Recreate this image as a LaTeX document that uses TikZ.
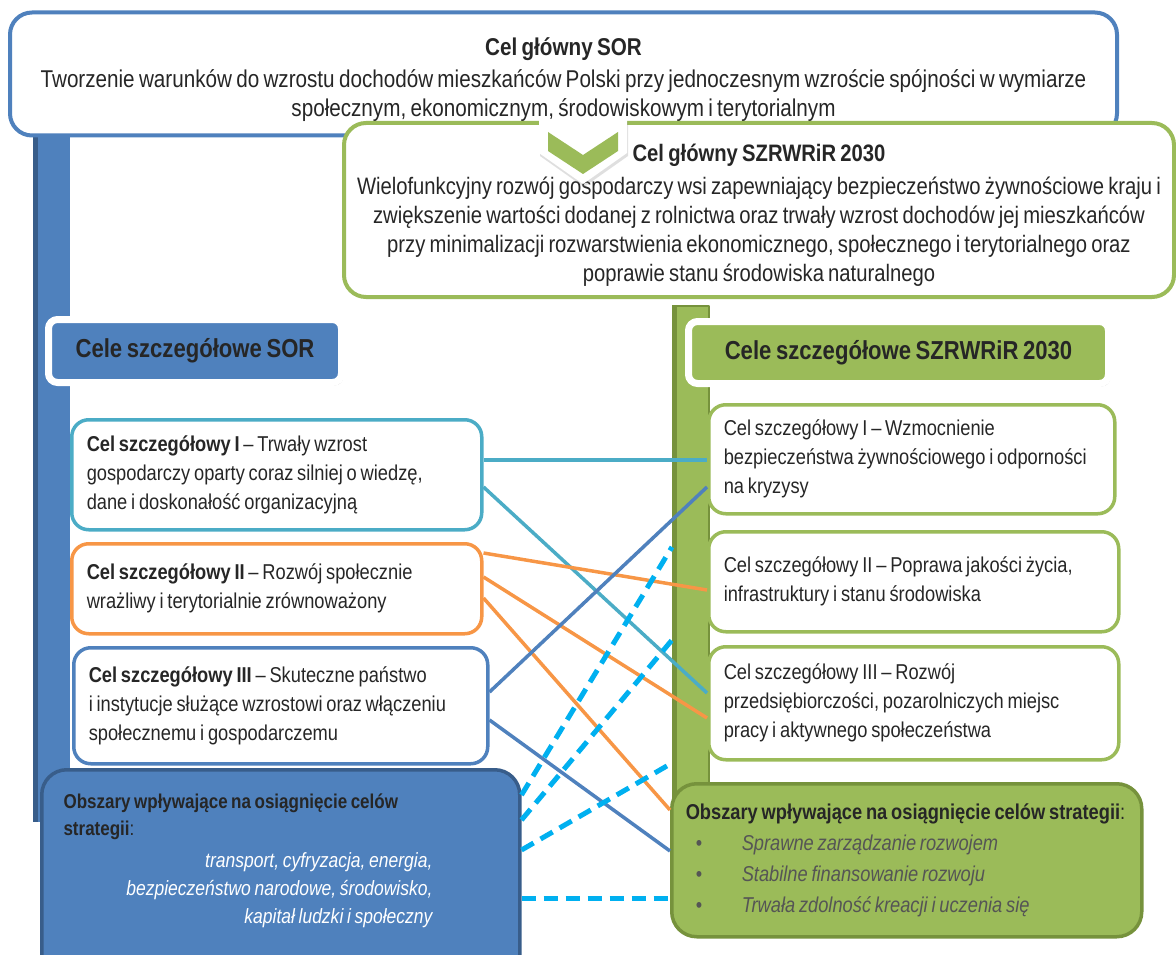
\documentclass[tikz,border=0pt]{standalone}
\usepackage{fontspec}
\setmainfont{Liberation Sans}[FakeStretch=0.85, WordSpace=0.75]
\usetikzlibrary{shadows}
\definecolor{sorblue}{HTML}{4F81BD}
\definecolor{sorbluedark}{HTML}{385D8A}
\definecolor{szgreen}{HTML}{9BBB59}
\definecolor{szgreendark}{HTML}{76923C}
\definecolor{cyanline}{HTML}{4BACC6}
\definecolor{orangeline}{HTML}{F79646}
\definecolor{dashblue}{HTML}{00B0F0}
\definecolor{txt}{HTML}{262626}
\definecolor{itemgray}{HTML}{555555}
\begin{document}
\begin{tikzpicture}[x=1pt, y=-1pt, line join=round,
  every node/.style={text=txt},
  mainbox/.style={draw=#1, fill=white, line width=4pt, rounded corners=22pt, align=center, font=\fontsize{23.8}{29}\selectfont},
  goal/.style={draw=#1, fill=white, line width=3.5pt, rounded corners=17pt, align=flush left, anchor=north west, inner xsep=15pt, inner ysep=0pt, font=\fontsize{21.5}{29}\selectfont},
  head/.style={fill=#1, draw=white, line width=7pt, rounded corners=9pt, drop shadow={opacity=.3, shadow xshift=2pt, shadow yshift=-3pt}, font=\fontsize{26}{30}\selectfont\bfseries},
  bar/.style={fill=#1, anchor=north west, inner sep=0pt},
  link/.style={draw=#1, line width=3.5pt},
  dlink/.style={draw=dashblue, line width=5pt, dash pattern=on 14pt off 8pt}]
\useasboundingbox (0,0) rectangle (1176,955);
\clip (0,0) rectangle (1176,955);

% bars behind the boxes
\node[bar=sorblue, minimum width=37pt, minimum height=692pt] (lBar) at (33,130) {};
\fill[sorbluedark] (lBar.north west) rectangle ([xshift=5pt]lBar.south west);
\node[bar=szgreen, draw=szgreendark, line width=1.5pt, minimum width=36pt, minimum height=495pt] (gBar) at (672,305) {};
\fill[szgreendark] (gBar.north west) rectangle ([xshift=5pt]gBar.south west);

% main goals
\node[mainbox=sorblue, minimum width=1107pt, minimum height=123pt, font=\fontsize{24.3}{29}\selectfont] (sorMain) at (563.5,74)
  {\rule{0pt}{30pt}\textbf{Cel główny SOR}\\[3pt]
   Tworzenie warunków do wzrostu dochodów mieszkańców Polski przy jednoczesnym wzroście spójności w wymiarze\\
   społecznym, ekonomicznym, środowiskowym i terytorialnym};
\node[mainbox=szgreen, minimum width=830pt, minimum height=174pt] (szMain) at (759,210)
  {\rule{0pt}{27pt}\textbf{Cel główny SZRWRiR 2030}\\[4pt]
   Wielofunkcyjny rozwój gospodarczy wsi zapewniający bezpieczeństwo żywnościowe kraju i\\
   zwiększenie wartości dodanej z rolnictwa oraz trwały wzrost dochodów jej mieszkańców\\
   przy minimalizacji rozwarstwienia ekonomicznego, społecznego i terytorialnego oraz\\
   poprawie stanu środowiska naturalnego};
\fill[white, drop shadow={opacity=.25, shadow xshift=1pt, shadow yshift=-3pt}]
  (539,119) -- (627,119) -- (627,153) -- (583,184) -- (539,153) -- cycle;
\fill[szgreen] (548,132) -- (583,155) -- (618,132) -- (618,151) -- (583,174) -- (548,151) -- cycle;

% headers
\node[head=sorblue, minimum width=293pt, minimum height=63pt] (lHead) at (195,351) {Cele szczegółowe SOR};
\node[head=szgreen, minimum width=420pt, minimum height=62pt] (rHead) at (898.5,352.5) {Cele szczegółowe SZRWRiR 2030};

% SOR goals
\node[goal=cyanline, text width=380pt, minimum height=110pt] (lI) at (70,418)
  {\textbf{Cel szczegółowy I} – Trwały wzrost\\ gospodarczy oparty coraz silniej o wiedzę,\\ dane i doskonałość organizacyjną};
\node[goal=orangeline, text width=380pt, minimum height=90pt] (lII) at (70,542)
  {\textbf{Cel szczegółowy II} – Rozwój społecznie\\ wrażliwy i terytorialnie zrównoważony};
\node[goal=sorblue, text width=384pt, minimum height=116pt] (lIII) at (72,646)
  {\textbf{Cel szczegółowy III} – Skuteczne państwo\\ i instytucje służące wzrostowi oraz włączeniu\\ społecznemu i gospodarczemu};

% SZRWRiR goals
\node[goal=szgreen, text width=376pt, minimum height=109pt] (rI) at (707,403)
  {Cel szczegółowy I – Wzmocnienie\\ bezpieczeństwa żywnościowego i odporności\\ na kryzysy};
\node[goal=szgreen, text width=380pt, minimum height=100pt] (rII) at (707,530)
  {Cel szczegółowy II – Poprawa jakości życia,\\ infrastruktury i stanu środowiska};
\node[goal=szgreen, text width=380pt, minimum height=113pt] (rIII) at (707,645)
  {Cel szczegółowy III – Rozwój\\ przedsiębiorczości, pozarolniczych miejsc\\ pracy i aktywnego społeczeństwa};

% areas
\node[draw=sorbluedark, fill=sorblue, line width=3.5pt, rounded corners=25pt, anchor=north west,
  minimum width=478pt, minimum height=230pt] (lArea) at (40,768) {};
\node[anchor=west, align=left, font=\fontsize{20}{27}\selectfont] (lAreaTitle) at (60,816.5)
  {\textbf{Obszary wpływające na osiągnięcie celów}\\ \textbf{strategii}:};
\node[anchor=east, align=right, text=white, font=\fontsize{20.6}{28}\selectfont\itshape] (lAreaList) at (436,890)
  {transport, cyfryzacja, energia,\\ bezpieczeństwo narodowe, środowisko,\\ kapitał ludzki i społeczny};
\node[draw=szgreendark, fill=szgreen, line width=3.5pt, rounded corners=25pt, anchor=north west, align=flush left,
  inner xsep=14pt, text width=442pt, minimum height=153pt, font=\fontsize{21.5}{31}\selectfont] (rArea) at (670,782)
  {\mbox{\textbf{Obszary wpływające na osiągnięcie celów strategii}:}\\
   \makebox[56pt][l]{\hspace{10pt}\textcolor{itemgray}{\textbullet}}\textcolor{itemgray}{\itshape Sprawne zarządzanie rozwojem}\\
   \makebox[56pt][l]{\hspace{10pt}\textcolor{itemgray}{\textbullet}}\textcolor{itemgray}{\itshape Stabilne finansowanie rozwoju}\\
   \makebox[56pt][l]{\hspace{10pt}\textcolor{itemgray}{\textbullet}}\textcolor{itemgray}{\itshape Trwała zdolność kreacji i uczenia się}};

% links
\draw[link=cyanline] (lI.east |- 0,460) -- (rI.west |- 0,460);
\draw[link=cyanline] (lI.east |- 0,487) -- (rIII.west |- 0,693);
\draw[link=orangeline] (lII.east |- 0,553) -- (rII.west |- 0,590);
\draw[link=orangeline] (lII.east |- 0,577) -- (rIII.west |- 0,718);
\draw[link=orangeline] (lII.east |- 0,598) -- (rArea.west |- 0,810);
\draw[link=sorblue] (lIII.east |- 0,692) -- (rI.west |- 0,487);
\draw[link=sorblue] (lIII.east |- 0,720) -- (rArea.west |- 0,851);
\draw[dlink] (lArea.east |- 0,795) -- (gBar.west |- 0,547);
\draw[dlink] (lArea.east |- 0,820) -- (gBar.west |- 0,640);
\draw[dlink] (lArea.east |- 0,850) -- (gBar.west |- 0,763);
\draw[dlink] (lArea.east |- 0,898) -- (rArea.west |- 0,898);
\end{tikzpicture}
\end{document}
